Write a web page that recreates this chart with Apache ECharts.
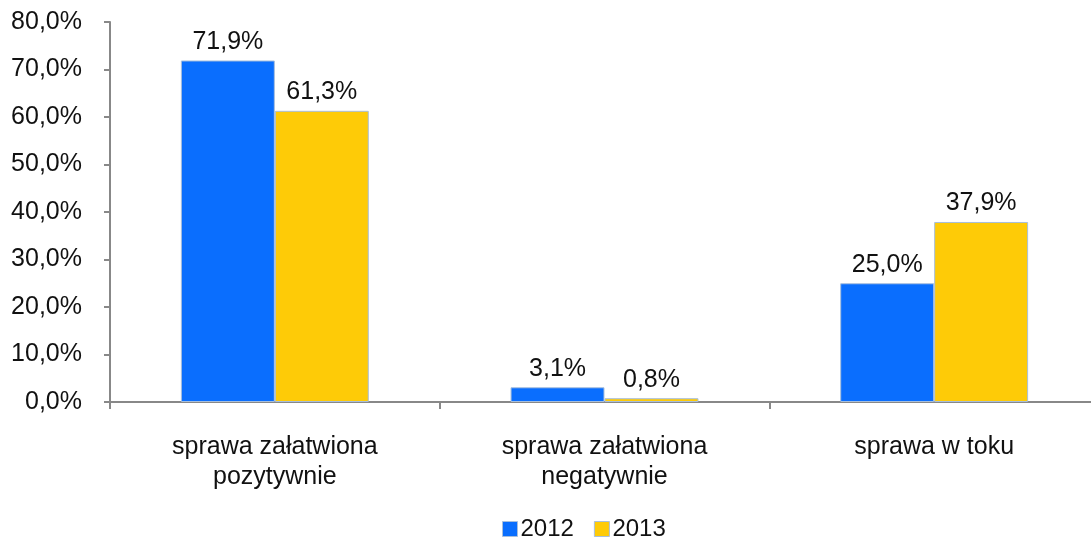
<!DOCTYPE html>
<html>
<head>
<meta charset="utf-8">
<script src="https://cdn.jsdelivr.net/npm/echarts@6/dist/echarts.min.js"></script>
<style>html,body{margin:0;padding:0;background:#fff;overflow:hidden}#c{width:1099px;height:538px}</style>
</head>
<body>
<div id="c"></div>
<script>
const categories = ['sprawa załatwiona\npozytywnie', 'sprawa załatwiona\nnegatywnie', 'sprawa w toku'];
const seriesNames = ['2012', '2013'];
const values2012 = [71.9, 3.1, 25.0];
const values2013 = [61.3, 0.8, 37.9];
const yTicks = { min: 0, max: 80, interval: 10 };

const fmt = v => v.toFixed(1).replace('.', ',') + '%';
const font = 'Liberation Sans, Arial, sans-serif';
const chart = echarts.init(document.getElementById('c'), null, { renderer: 'canvas' });

function bar(name, data, color) {
  return {
    name, type: 'bar', data, barGap: 0, barCategoryGap: '43%',
    itemStyle: { color, borderColor: '#a8bfdc', borderWidth: 1 },
    label: { show: true, position: 'top', distance: 6, formatter: p => fmt(p.value),
      color: '#111', fontSize: 25, fontFamily: font }
  };
}

chart.setOption({
  animation: false,
  color: ['#0a6efe', '#fecb07'],
  grid: { left: 110, right: 0, top: 22, bottom: 136, containLabel: false },
  legend: {
    data: seriesNames, top: 512, left: 497, itemWidth: 15, itemHeight: 15, itemGap: 20,
    icon: 'rect',
    itemStyle: { borderColor: '#a8bfdc', borderWidth: 1 },
    textStyle: { fontSize: 24, fontFamily: font, color: '#111', padding: [0, 0, 0, -2] }
  },
  xAxis: {
    type: 'category', data: categories,
    axisLine: { lineStyle: { color: '#888', width: 2 } },
    axisTick: { show: true, length: 7, lineStyle: { color: '#888', width: 2 } },
    axisLabel: { fontSize: 25, fontFamily: font, color: '#111', margin: 30, lineHeight: 30, interval: 0 }
  },
  yAxis: {
    type: 'value', min: yTicks.min, max: yTicks.max, interval: yTicks.interval,
    axisLine: { show: true, lineStyle: { color: '#888', width: 2 } },
    axisTick: { show: true, length: 6, lineStyle: { color: '#888', width: 2 } },
    splitLine: { show: false },
    axisLabel: { fontSize: 25, fontFamily: font, color: '#111', margin: 28, formatter: v => fmt(v) }
  },
  series: [bar(seriesNames[0], values2012, '#0a6efe'), bar(seriesNames[1], values2013, '#fecb07')]
});
</script>
</body>
</html>
